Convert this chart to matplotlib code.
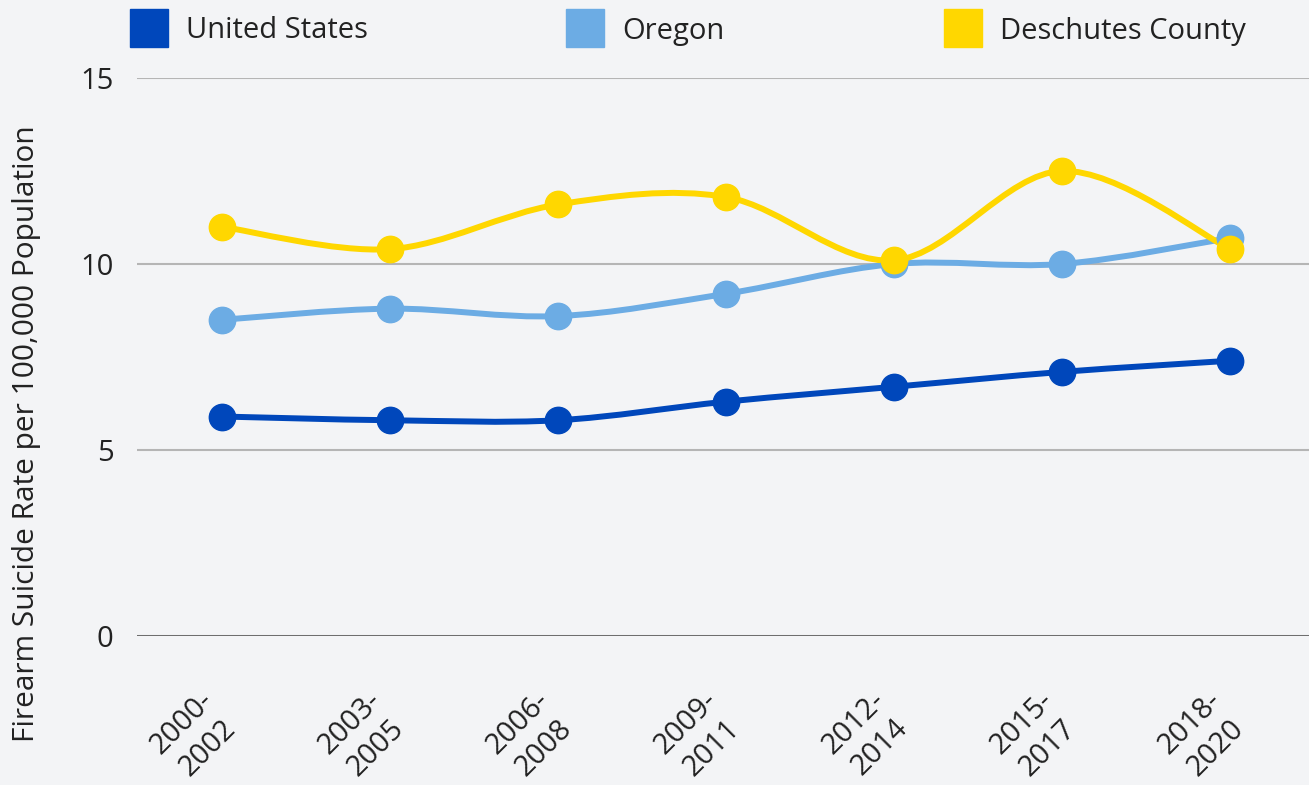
import numpy as np
import matplotlib.pyplot as plt
from matplotlib.path import Path
from matplotlib.patches import PathPatch, Rectangle

plt.rcParams['font.family'] = ['Open Sans', 'DejaVu Sans']

periods = ['2000-\n2002', '2003-\n2005', '2006-\n2008', '2009-\n2011',
           '2012-\n2014', '2015-\n2017', '2018-\n2020']
us = [5.9, 5.8, 5.8, 6.3, 6.7, 7.1, 7.4]
oregon = [8.5, 8.8, 8.6, 9.2, 10.0, 10.0, 10.7]
deschutes = [11.0, 10.4, 11.6, 11.8, 10.1, 12.5, 10.4]

names = ['United States', 'Oregon', 'Deschutes County']
colors = ['#0047bb', '#6cace4', '#ffd700']
BG = '#f3f4f6'


def smooth_path(x, y):
    # catmull-rom style cubic bezier through the points
    x = np.asarray(x, float)
    y = np.asarray(y, float)
    verts = [(x[0], y[0])]
    codes = [Path.MOVETO]
    n = len(x)
    for i in range(n - 1):
        x0, y0 = (x[i - 1], y[i - 1]) if i > 0 else (x[i], y[i])
        x3, y3 = (x[i + 2], y[i + 2]) if i + 2 < n else (x[i + 1], y[i + 1])
        c1 = (x[i] + (x[i + 1] - x0) / 6, y[i] + (y[i + 1] - y0) / 6)
        c2 = (x[i + 1] - (x3 - x[i]) / 6, y[i + 1] - (y3 - y[i]) / 6)
        verts += [c1, c2, (x[i + 1], y[i + 1])]
        codes += [Path.CURVE4] * 3
    return Path(verts, codes)


fig = plt.figure(figsize=(13.09, 7.85), dpi=100, facecolor=BG)
ax = fig.add_axes([137 / 1309, 1 - 636 / 785, 1 - 137 / 1309, (636 - 78) / 785])
ax.set_facecolor(BG)

xs = np.arange(len(periods))
for vals, c in zip([us, oregon, deschutes], colors):
    ax.add_patch(PathPatch(smooth_path(xs, vals), facecolor='none',
                           edgecolor=c, lw=4.3, capstyle='round', zorder=3))
    ax.plot(xs, vals, 'o', color=c, markersize=19, zorder=4, clip_on=False)

ax.set_xlim(-0.506, 6.47)
ax.set_ylim(0, 15)
ax.set_yticks([0, 5, 10, 15])
ax.yaxis.grid(True, color='#b5b5b5', lw=1.5)
ax.set_axisbelow(True)
for s in ax.spines.values():
    s.set_visible(False)
ax.axhline(0, color='#666666', lw=2, zorder=1)

ax.tick_params(axis='y', length=0, pad=17, labelsize=21, labelcolor='#222222')
ax.tick_params(axis='x', length=0, pad=52, labelsize=21, labelcolor='#222222')
ax.set_xticks(xs)
ax.set_xticklabels(periods, rotation=45, ha='right', va='center',
                   rotation_mode='anchor', multialignment='center',
                   linespacing=1.3)

fig.text(27 / 1309, 1 - 434 / 785, 'Firearm Suicide Rate per 100,000 Population',
         rotation=90, ha='center', va='center', fontsize=21.5, color='#222222')

# legend across the top
leg_x = [130, 566, 944]
for lx, name, c in zip(leg_x, names, colors):
    fig.add_artist(Rectangle((lx / 1309, 1 - 47 / 785), 38 / 1309, 38 / 785,
                             transform=fig.transFigure, color=c))
    fig.text((lx + 56) / 1309, 1 - 31 / 785, name, ha='left', va='center',
             fontsize=21, color='#222222')

fig.savefig('out.png', dpi=100, facecolor=BG)
